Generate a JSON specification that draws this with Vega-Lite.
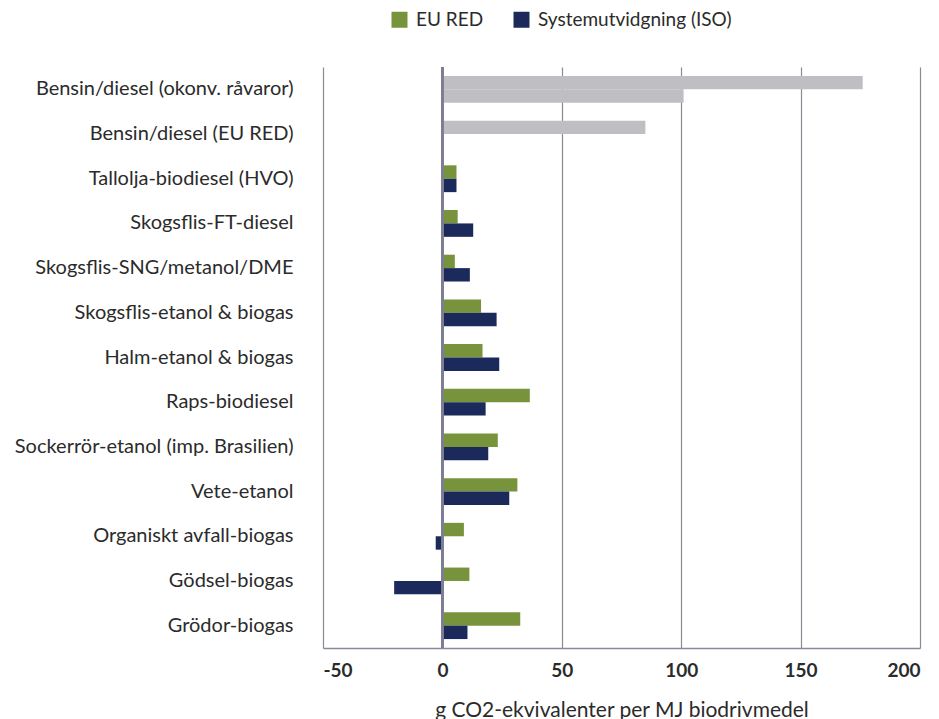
{
  "$schema": "https://vega.github.io/schema/vega-lite/v6.json",
  "width": 597,
  "height": 581,
  "autosize": "none",
  "padding": {"left": 323, "top": 67, "right": 19, "bottom": 71},
  "background": "white",
  "config": {
    "view": {"stroke": null},
    "font": "Lato",
    "text": {"font": "Lato"}
  },
  "data": {
    "values": [
      {"kategori": "Bensin/diesel (okonv. råvaror)", "serie": "EU RED", "grupp": "Fossil", "varde": 176},
      {"kategori": "Bensin/diesel (okonv. råvaror)", "serie": "Systemutvidgning (ISO)", "grupp": "Fossil", "varde": 101},
      {"kategori": "Bensin/diesel (EU RED)", "serie": "EU RED", "grupp": "Fossil", "varde": 85},
      {"kategori": "Tallolja-biodiesel (HVO)", "serie": "EU RED", "grupp": "EU RED", "varde": 5.9},
      {"kategori": "Tallolja-biodiesel (HVO)", "serie": "Systemutvidgning (ISO)", "grupp": "Systemutvidgning (ISO)", "varde": 5.9},
      {"kategori": "Skogsflis-FT-diesel", "serie": "EU RED", "grupp": "EU RED", "varde": 6.4},
      {"kategori": "Skogsflis-FT-diesel", "serie": "Systemutvidgning (ISO)", "grupp": "Systemutvidgning (ISO)", "varde": 12.9},
      {"kategori": "Skogsflis-SNG/metanol/DME", "serie": "EU RED", "grupp": "EU RED", "varde": 5.2},
      {"kategori": "Skogsflis-SNG/metanol/DME", "serie": "Systemutvidgning (ISO)", "grupp": "Systemutvidgning (ISO)", "varde": 11.5},
      {"kategori": "Skogsflis-etanol & biogas", "serie": "EU RED", "grupp": "EU RED", "varde": 16.2},
      {"kategori": "Skogsflis-etanol & biogas", "serie": "Systemutvidgning (ISO)", "grupp": "Systemutvidgning (ISO)", "varde": 22.7},
      {"kategori": "Halm-etanol & biogas", "serie": "EU RED", "grupp": "EU RED", "varde": 16.8},
      {"kategori": "Halm-etanol & biogas", "serie": "Systemutvidgning (ISO)", "grupp": "Systemutvidgning (ISO)", "varde": 23.8},
      {"kategori": "Raps-biodiesel", "serie": "EU RED", "grupp": "EU RED", "varde": 36.6},
      {"kategori": "Raps-biodiesel", "serie": "Systemutvidgning (ISO)", "grupp": "Systemutvidgning (ISO)", "varde": 18.1},
      {"kategori": "Sockerrör-etanol (imp. Brasilien)", "serie": "EU RED", "grupp": "EU RED", "varde": 23.2},
      {"kategori": "Sockerrör-etanol (imp. Brasilien)", "serie": "Systemutvidgning (ISO)", "grupp": "Systemutvidgning (ISO)", "varde": 19.2},
      {"kategori": "Vete-etanol", "serie": "EU RED", "grupp": "EU RED", "varde": 31.4},
      {"kategori": "Vete-etanol", "serie": "Systemutvidgning (ISO)", "grupp": "Systemutvidgning (ISO)", "varde": 28.0},
      {"kategori": "Organiskt avfall-biogas", "serie": "EU RED", "grupp": "EU RED", "varde": 9.0},
      {"kategori": "Organiskt avfall-biogas", "serie": "Systemutvidgning (ISO)", "grupp": "Systemutvidgning (ISO)", "varde": -2.8},
      {"kategori": "Gödsel-biogas", "serie": "EU RED", "grupp": "EU RED", "varde": 11.3},
      {"kategori": "Gödsel-biogas", "serie": "Systemutvidgning (ISO)", "grupp": "Systemutvidgning (ISO)", "varde": -20.2},
      {"kategori": "Grödor-biogas", "serie": "EU RED", "grupp": "EU RED", "varde": 32.6},
      {"kategori": "Grödor-biogas", "serie": "Systemutvidgning (ISO)", "grupp": "Systemutvidgning (ISO)", "varde": 10.5}
    ]
  },
  "layer": [
    {
      "mark": {"type": "bar", "cornerRadius": 0},
      "encoding": {
        "y": {
          "field": "kategori",
          "type": "nominal",
          "sort": null,
          "scale": {"paddingInner": 0.4, "paddingOuter": 0.2},
          "axis": {
            "title": null,
            "domain": false,
            "ticks": false,
            "grid": false,
            "labelPadding": 30,
            "labelFont": "Lato",
            "labelFontSize": 20,
            "labelColor": "#2b2b2b",
            "labelLimit": 400
          }
        },
        "yOffset": {
          "field": "serie",
          "type": "nominal",
          "scale": {"domain": ["EU RED", "Systemutvidgning (ISO)"], "paddingInner": 0, "paddingOuter": 0}
        },
        "x": {
          "field": "varde",
          "type": "quantitative",
          "scale": {"domain": [-50, 200], "nice": false, "zero": false},
          "axis": {
            "values": [-50, 0, 50, 100, 150, 200],
            "labelExpr": "replace(datum.label, '−', '-')",
            "title": "g CO2-ekvivalenter per MJ biodrivmedel",
            "titleFont": "Lato",
            "titleFontSize": 21,
            "titleFontWeight": "normal",
            "titleColor": "#2b2b2b",
            "titlePadding": 19,
            "grid": true,
            "gridColor": "#8a8a96",
            "gridWidth": 1.2,
            "domain": true,
            "domainColor": "#8a8a96",
            "domainWidth": 1.5,
            "ticks": false,
            "labelFont": "Lato",
            "labelFontSize": 19,
            "labelFontWeight": "bold",
            "labelColor": "#2b2b2b",
            "labelPadding": 13
          }
        },
        "color": {
          "field": "grupp",
          "type": "nominal",
          "scale": {
            "domain": ["EU RED", "Systemutvidgning (ISO)", "Fossil"],
            "range": ["#77933C", "#1B2A5B", "#BEBEC3"]
          },
          "legend": {
            "values": ["EU RED", "Systemutvidgning (ISO)"],
            "title": null,
            "orient": "none",
            "direction": "horizontal",
            "legendX": 67,
            "legendY": -57,
            "symbolType": "square",
            "symbolSize": 256,
            "symbolStrokeWidth": 0,
            "symbolOpacity": 1,
            "labelFont": "Lato",
            "labelFontSize": 19,
            "labelColor": "#2b2b2b",
            "labelOffset": 7,
            "labelLimit": 400,
            "columnPadding": 28
          }
        }
      }
    },
    {
      "mark": {"type": "rule", "color": "#7d7d95", "strokeWidth": 1.5},
      "encoding": {
        "x": {"datum": 0}
      }
    }
  ]
}
